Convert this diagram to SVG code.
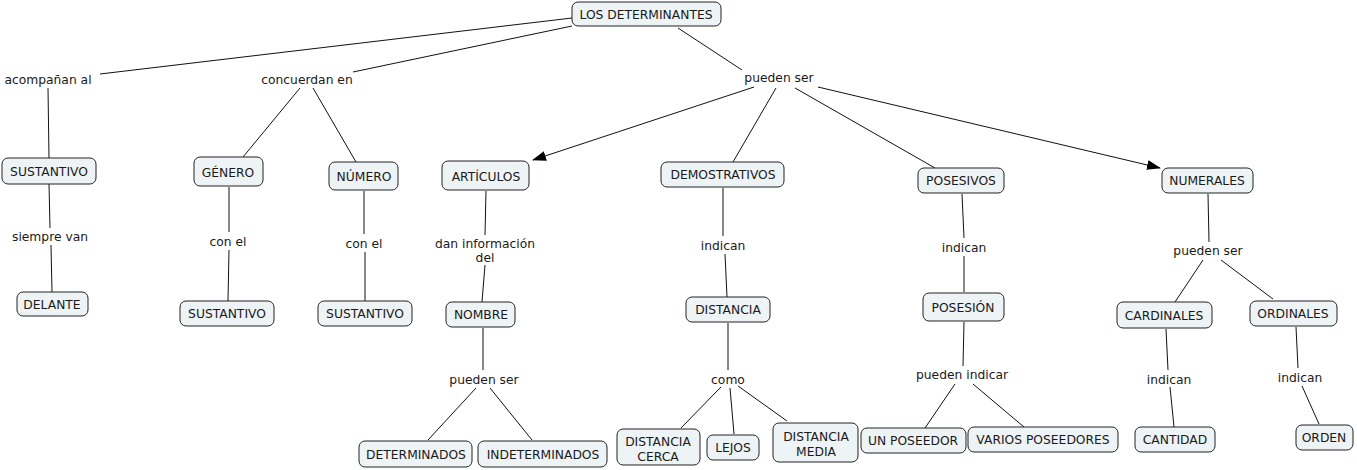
<svg xmlns="http://www.w3.org/2000/svg" width="1357" height="470" viewBox="0 0 1357 470">
<style>
.n rect{fill:#eef3f5;stroke:#222;stroke-width:1;}
text{font-family:"DejaVu Sans",Verdana,sans-serif;font-size:12.3px;fill:#1a1a1a;text-anchor:middle;}
.c line{stroke:#111;stroke-width:1;}
</style>
<defs>
<marker id="ar" viewBox="0 0 14 10" refX="13" refY="5" markerWidth="14" markerHeight="10" markerUnits="userSpaceOnUse" orient="auto">
<path d="M0,0 L14,5 L0,10 z" fill="#000"/>
</marker>
</defs>
<rect width="1357" height="470" fill="#fff"/>
<g id="connectors" class="c">
<line x1="572" y1="18" x2="100" y2="74"/>
<line x1="572" y1="26" x2="353" y2="72"/>
<line x1="678" y1="28" x2="742" y2="70"/>
<line x1="48" y1="88" x2="49" y2="158"/>
<line x1="300" y1="88" x2="243" y2="157"/>
<line x1="313" y1="88" x2="356" y2="162"/>
<line x1="754" y1="87" x2="533" y2="160" marker-end="url(#ar)"/>
<line x1="776" y1="88" x2="733" y2="162"/>
<line x1="795" y1="88" x2="935" y2="168"/>
<line x1="818" y1="87" x2="1160" y2="168" marker-end="url(#ar)"/>
<line x1="49" y1="184" x2="50" y2="228"/>
<line x1="51" y1="245" x2="52" y2="292"/>
<line x1="229" y1="187" x2="229" y2="232"/>
<line x1="229" y1="250" x2="228" y2="301"/>
<line x1="364" y1="191" x2="364" y2="234"/>
<line x1="365" y1="252" x2="365" y2="301"/>
<line x1="486" y1="191" x2="485" y2="235"/>
<line x1="485" y1="265" x2="482" y2="302"/>
<line x1="483" y1="328" x2="483" y2="370"/>
<line x1="476" y1="388" x2="428" y2="440"/>
<line x1="490" y1="388" x2="532" y2="440"/>
<line x1="723" y1="188" x2="723" y2="236"/>
<line x1="725" y1="254" x2="727" y2="297"/>
<line x1="728" y1="323" x2="728" y2="370"/>
<line x1="721" y1="387" x2="681" y2="428"/>
<line x1="730" y1="388" x2="734" y2="434"/>
<line x1="738" y1="386" x2="787" y2="421"/>
<line x1="962" y1="194" x2="964" y2="238"/>
<line x1="964" y1="256" x2="964" y2="292"/>
<line x1="964" y1="322" x2="963" y2="366"/>
<line x1="955" y1="384" x2="925" y2="428"/>
<line x1="973" y1="384" x2="1024" y2="427"/>
<line x1="1208" y1="194" x2="1209" y2="242"/>
<line x1="1203" y1="260" x2="1175" y2="302"/>
<line x1="1221" y1="260" x2="1273" y2="299"/>
<line x1="1166" y1="329" x2="1168" y2="370"/>
<line x1="1170" y1="387" x2="1174" y2="427"/>
<line x1="1296" y1="327" x2="1298" y2="368"/>
<line x1="1302" y1="386" x2="1319" y2="424"/>
</g>
<g id="labels">
<text x="48" y="84">acompañan al</text>
<text x="307" y="84">concuerdan en</text>
<text x="779" y="82">pueden ser</text>
<text x="50" y="241">siempre van</text>
<text x="228" y="246">con el</text>
<text x="364" y="248">con el</text>
<text x="485" y="248">dan información</text>
<text x="485" y="262">del</text>
<text x="723" y="250">indican</text>
<text x="728" y="384">como</text>
<text x="484" y="384">pueden ser</text>
<text x="964" y="252">indican</text>
<text x="962" y="379">pueden indicar</text>
<text x="1208" y="255">pueden ser</text>
<text x="1169" y="384">indican</text>
<text x="1300" y="382">indican</text>
</g>
<g id="n-los" class="n"><rect x="572" y="2" width="149" height="24" rx="6"/><text x="646" y="19">LOS DETERMINANTES</text></g>
<g id="n-sustantivo1" class="n"><rect x="2" y="158" width="94" height="26" rx="6"/><text x="49" y="176">SUSTANTIVO</text></g>
<g id="n-delante" class="n"><rect x="17" y="292" width="71" height="24" rx="6"/><text x="52" y="309">DELANTE</text></g>
<g id="n-genero" class="n"><rect x="194" y="157" width="69" height="29" rx="6"/><text x="228" y="177">GÉNERO</text></g>
<g id="n-numero" class="n"><rect x="329" y="162" width="69" height="28" rx="6"/><text x="364" y="181">NÚMERO</text></g>
<g id="n-sustantivo2" class="n"><rect x="180" y="301" width="94" height="25" rx="6"/><text x="227" y="318">SUSTANTIVO</text></g>
<g id="n-sustantivo3" class="n"><rect x="318" y="301" width="94" height="25" rx="6"/><text x="365" y="318">SUSTANTIVO</text></g>
<g id="n-articulos" class="n"><rect x="442" y="161" width="87" height="29" rx="6"/><text x="486" y="181">ARTÍCULOS</text></g>
<g id="n-nombre" class="n"><rect x="446" y="302" width="69" height="25" rx="6"/><text x="481" y="319">NOMBRE</text></g>
<g id="n-determinados" class="n"><rect x="359" y="441" width="113" height="26" rx="6"/><text x="416" y="459">DETERMINADOS</text></g>
<g id="n-indeterminados" class="n"><rect x="478" y="441" width="129" height="26" rx="6"/><text x="543" y="459">INDETERMINADOS</text></g>
<g id="n-demostrativos" class="n"><rect x="661" y="162" width="123" height="25" rx="6"/><text x="723" y="179">DEMOSTRATIVOS</text></g>
<g id="n-distancia" class="n"><rect x="686" y="297" width="84" height="25" rx="6"/><text x="728" y="314">DISTANCIA</text></g>
<g id="n-cerca" class="n"><rect x="617" y="429" width="83" height="36" rx="6"/><text x="658" y="446">DISTANCIA</text><text x="658" y="461">CERCA</text></g>
<g id="n-lejos" class="n"><rect x="707" y="435" width="52" height="25" rx="6"/><text x="733" y="452">LEJOS</text></g>
<g id="n-media" class="n"><rect x="773" y="423" width="85" height="39" rx="6"/><text x="816" y="441">DISTANCIA</text><text x="816" y="456">MEDIA</text></g>
<g id="n-posesivos" class="n"><rect x="918" y="168" width="86" height="25" rx="6"/><text x="961" y="185">POSESIVOS</text></g>
<g id="n-posesion" class="n"><rect x="923" y="293" width="81" height="28" rx="6"/><text x="963" y="312">POSESIÓN</text></g>
<g id="n-unposeedor" class="n"><rect x="861" y="428" width="105" height="25" rx="6"/><text x="913" y="445">UN POSEEDOR</text></g>
<g id="n-varios" class="n"><rect x="968" y="427" width="150" height="25" rx="6"/><text x="1043" y="444">VARIOS POSEEDORES</text></g>
<g id="n-numerales" class="n"><rect x="1162" y="168" width="91" height="25" rx="6"/><text x="1207" y="185">NUMERALES</text></g>
<g id="n-cardinales" class="n"><rect x="1117" y="302" width="95" height="26" rx="6"/><text x="1164" y="320">CARDINALES</text></g>
<g id="n-ordinales" class="n"><rect x="1250" y="301" width="87" height="25" rx="6"/><text x="1293" y="318">ORDINALES</text></g>
<g id="n-cantidad" class="n"><rect x="1135" y="427" width="80" height="25" rx="6"/><text x="1175" y="444">CANTIDAD</text></g>
<g id="n-orden" class="n"><rect x="1296" y="425" width="57" height="25" rx="6"/><text x="1324" y="442">ORDEN</text></g>
</svg>
